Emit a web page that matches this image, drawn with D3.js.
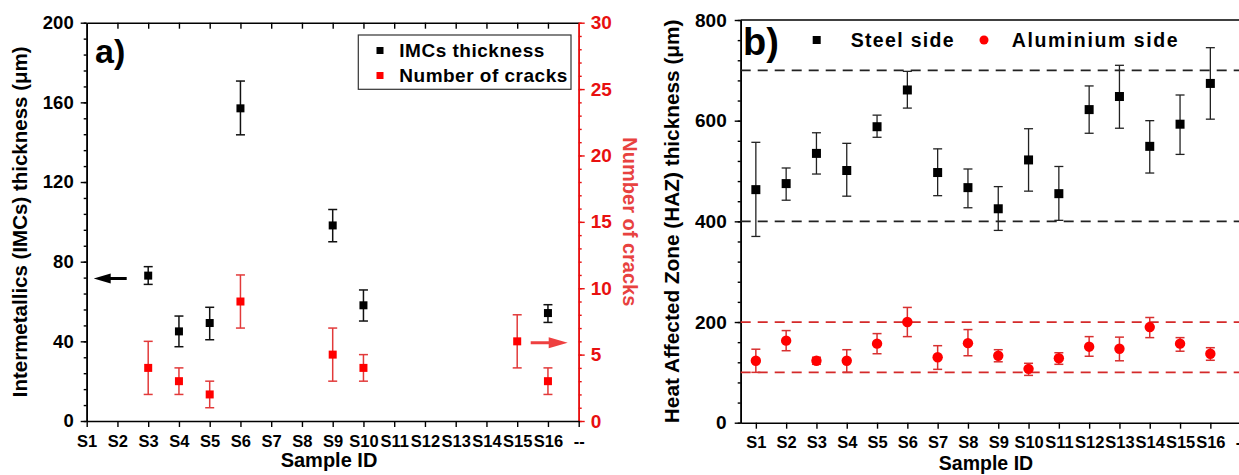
<!DOCTYPE html>
<html>
<head>
<meta charset="utf-8">
<script src="https://cdn.jsdelivr.net/npm/d3@7"></script>
<style>
  html, body { margin: 0; padding: 0; background: #fff; }
  svg { display: block; font-family: "Liberation Sans", Arial, sans-serif; font-weight: bold; }
</style>
</head>
<body>
<svg id="chart" width="1239" height="475"></svg>
<script>
// ---------- data ----------
const samples = ["S1","S2","S3","S4","S5","S6","S7","S8","S9","S10","S11","S12","S13","S14","S15","S16","--"];

// panel a) IMCs thickness (left axis, µm)
const imcSamples   = ["S3","S4","S5","S6","S9","S10","S16"];
const imcThickness = [73, 45, 49.2, 157, 98.2, 58.1, 54.2];
const imcLow       = [68.6, 37.3, 40.8, 143.7, 90, 50.2, 49.5];
const imcHigh      = [77.5, 52.7, 57.1, 170.7, 106.2, 65.8, 58.4];

// panel a) number of cracks (right axis)
const crackSamples = ["S3","S4","S5","S6","S9","S10","S15","S16"];
const crackCount   = [4, 3, 2, 9, 5, 4, 6, 3];
const crackErr     = [2, 1, 1, 2, 2, 1, 2, 1];

// panel b) HAZ thickness (µm)
const hazSamples = ["S1","S2","S3","S4","S5","S6","S7","S8","S9","S10","S11","S12","S13","S14","S15","S16"];
const steelSide  = [463, 475, 535, 501, 588, 661, 497, 467, 425, 522, 455, 622, 648, 549, 593, 674];
const steelLow   = [370, 442, 494, 450, 567, 625, 451, 427, 382, 460, 402, 575, 585, 496, 533, 603];
const steelHigh  = [557, 506, 576, 555, 611, 698, 544, 504, 469, 584, 509, 669, 710, 600, 651, 745];
const alSide     = [123, 163, 123, 123, 157, 200, 130, 158, 133, 107, 128, 151, 147, 190, 157, 137];
const alLow      = [100, 143, 116, 100, 137, 171, 106, 133, 121, 94, 116, 132, 123, 169, 142, 124];
const alHigh     = [146, 183, 130, 145, 177, 229, 153, 185, 145, 118, 139, 171, 170, 209, 169, 149];
const steelBand  = [400, 700];
const alBand     = [100, 200];

// ticks
const imcTicks   = [0, 40, 80, 120, 160, 200];
const crackTicks = [0, 5, 10, 15, 20, 25, 30];
const hazTicks   = [0, 200, 400, 600, 800];

// ---------- drawing ----------
const svg = d3.select("#chart");
const RED = "#ff0000";
const RED_AX = "#e81010";
const RED_BAR = "#e23a3a";

function styleAxis(g, color, fs) {
  g.selectAll("path.domain").attr("stroke", color).attr("stroke-width", 1.6);
  g.selectAll(".tick line").attr("stroke", color).attr("stroke-width", 1.4);
  g.selectAll(".tick text").attr("fill", color).style("font-size", fs + "px")
    .style("font-family", "'Liberation Sans', Arial, sans-serif").style("font-weight", "bold");
}

function errorBars(g, xs, ys, xKeys, lows, highs, color, width, cap) {
  xKeys.forEach((k, i) => {
    const x = xs(k), y1 = ys(lows[i]), y2 = ys(highs[i]);
    g.append("line").attr("x1", x).attr("x2", x).attr("y1", y1).attr("y2", y2)
      .attr("stroke", color).attr("stroke-width", width);
    [y1, y2].forEach(y => g.append("line").attr("x1", x - cap).attr("x2", x + cap)
      .attr("y1", y).attr("y2", y).attr("stroke", color).attr("stroke-width", width));
  });
}

// ===== Panel a =====
const aL = 86.7, aR = 578.7, aT = 22.7, aB = 421;
const xA = d3.scalePoint().domain(samples).range([aL, aR]);
const yA = d3.scaleLinear().domain([0, 200]).range([aB, aT]);
const yC = d3.scaleLinear().domain([0, 30]).range([aB, aT]);
const pa = svg.append("g");

// minor ticks
pa.append("g").attr("transform", `translate(${aL},0)`)
  .call(d3.axisLeft(yA).tickValues(d3.range(0, 201, 8)).tickSize(3).tickFormat("").tickSizeOuter(0))
  .call(g => styleAxis(g, "#000", 18));
pa.append("g").attr("transform", `translate(${aR},0)`)
  .call(d3.axisRight(yC).tickValues(d3.range(0, 31, 1)).tickSize(3).tickFormat("").tickSizeOuter(0))
  .call(g => styleAxis(g, RED_AX, 18));
// top inside ticks
pa.append("g").attr("transform", `translate(0,${aT})`)
  .call(d3.axisTop(xA).tickValues(samples.slice(1, 16)).tickSize(-6).tickFormat("").tickSizeOuter(0))
  .call(g => styleAxis(g, "#000", 17));
// major axes
pa.append("g").attr("transform", `translate(${aL},0)`)
  .call(d3.axisLeft(yA).tickValues(imcTicks).tickSize(6).tickPadding(7).tickSizeOuter(0))
  .call(g => styleAxis(g, "#000", 18.5));
pa.append("g").attr("transform", `translate(${aR},0)`)
  .call(d3.axisRight(yC).tickValues(crackTicks).tickSize(6).tickPadding(6).tickSizeOuter(0))
  .call(g => styleAxis(g, RED_AX, 19));
pa.append("g").attr("transform", `translate(0,${aB})`)
  .call(d3.axisBottom(xA).tickSize(6).tickPadding(8).tickSizeOuter(0))
  .call(g => styleAxis(g, "#000", 16.5));

// error bars + markers
const eA = pa.append("g");
errorBars(eA, xA, yA, imcSamples, imcLow, imcHigh, "#111", 1.5, 4.5);
errorBars(eA, xA, yC, crackSamples,
  crackCount.map((v, i) => v - crackErr[i]), crackCount.map((v, i) => v + crackErr[i]), RED_BAR, 1.5, 4.5);
const sq = 8;
pa.append("g").selectAll("rect").data(imcSamples).join("rect")
  .attr("x", d => xA(d) - sq / 2).attr("y", (d, i) => yA(imcThickness[i]) - sq / 2)
  .attr("width", sq).attr("height", sq).attr("fill", "#000");
pa.append("g").selectAll("rect").data(crackSamples).join("rect")
  .attr("x", d => xA(d) - sq / 2).attr("y", (d, i) => yC(crackCount[i]) - sq / 2)
  .attr("width", sq).attr("height", sq).attr("fill", RED);

// arrows
{
  const y = yA(71.6), tip = xA("S1") + 7;
  pa.append("path").attr("fill", "#000")
    .attr("d", `M${tip},${y} L${tip + 17},${y - 5} L${tip + 17},${y - 1.5} L${tip + 33},${y - 1.5} L${tip + 33},${y + 1.5} L${tip + 17},${y + 1.5} L${tip + 17},${y + 5} Z`);
  const y2 = yC(5.9), tip2 = aR - 11;
  pa.append("path").attr("fill", "#ee4040")
    .attr("d", `M${tip2},${y2} L${tip2 - 19},${y2 - 5.5} L${tip2 - 19},${y2 - 1.5} L${tip2 - 37},${y2 - 1.5} L${tip2 - 37},${y2 + 1.5} L${tip2 - 19},${y2 + 1.5} L${tip2 - 19},${y2 + 5.5} Z`);
}

// legend a
const lg = pa.append("g");
lg.append("rect").attr("x", 358.3).attr("y", 35).attr("width", 212.7).attr("height", 54.3)
  .attr("fill", "#fff").attr("stroke", "#333").attr("stroke-width", 1.2);
lg.append("rect").attr("x", 376.5).attr("y", 47).attr("width", 7).attr("height", 7).attr("fill", "#000");
lg.append("rect").attr("x", 376.5).attr("y", 72).attr("width", 7).attr("height", 7).attr("fill", RED);
lg.append("text").attr("x", 399.3).attr("y", 57).attr("textLength", 145).style("font-size", "19px").text("IMCs thickness");
lg.append("text").attr("x", 399.3).attr("y", 82).attr("textLength", 168).style("font-size", "19px").text("Number of cracks");

pa.append("text").attr("x", 95).attr("y", 63).style("font-size", "34px").text("a)");

// titles a
pa.append("text").attr("transform", `translate(27,${(aT + aB) / 2}) rotate(-90)`)
  .attr("text-anchor", "middle").style("font-size", "20.5px").text("Intermetallics (IMCs) thickness (\u03bcm)");
pa.append("text").attr("transform", `translate(623,${(aT + aB) / 2}) rotate(90)`)
  .attr("text-anchor", "middle").attr("fill", "#e8423f").style("font-size", "20px").text("Number of cracks");
pa.append("text").attr("x", 329).attr("y", 467).attr("text-anchor", "middle").style("font-size", "20px").text("Sample ID");

// ===== Panel b =====
const bL = 740.7, bR = 1255.8, bT = 20, bB = 422.7;
const xB = d3.scalePoint().domain(samples).range([bL, bR]).padding(0.5);
const yB = d3.scaleLinear().domain([0, 800]).range([bB, bT]);
const pb = svg.append("g");

pb.append("g").attr("transform", `translate(${bL},0)`)
  .call(d3.axisLeft(yB).tickValues(d3.range(0, 801, 40)).tickSize(3).tickFormat("").tickSizeOuter(0))
  .call(g => styleAxis(g, "#000", 18));
pb.append("g").attr("transform", `translate(${bL},0)`)
  .call(d3.axisLeft(yB).tickValues(hazTicks).tickSize(6).tickPadding(8).tickSizeOuter(0))
  .call(g => styleAxis(g, "#000", 19));
pb.append("g").attr("transform", `translate(0,${bB})`)
  .call(d3.axisBottom(xB).tickSize(6).tickPadding(8).tickSizeOuter(0))
  .call(g => styleAxis(g, "#000", 16.5));
pb.append("line").attr("x1", bL).attr("x2", bR).attr("y1", bT).attr("y2", bT)
  .attr("stroke", "#000").attr("stroke-width", 1.6);
pb.append("line").attr("x1", bR).attr("x2", bR).attr("y1", bT).attr("y2", bB)
  .attr("stroke", "#000").attr("stroke-width", 1.6);

// dashed bands
steelBand.forEach(v => pb.append("line").attr("x1", bL).attr("x2", bR).attr("y1", yB(v)).attr("y2", yB(v))
  .attr("stroke", "#222").attr("stroke-width", 1.8).attr("stroke-dasharray", "10,7"));
alBand.forEach(v => pb.append("line").attr("x1", bL).attr("x2", bR).attr("y1", yB(v)).attr("y2", yB(v))
  .attr("stroke", "#d42a2a").attr("stroke-width", 1.8).attr("stroke-dasharray", "10,7"));

const eB = pb.append("g");
errorBars(eB, xB, yB, hazSamples, steelLow, steelHigh, "#222", 1.3, 4.5);
errorBars(eB, xB, yB, hazSamples, alLow, alHigh, "#d83030", 1.5, 4.5);
const sq2 = 9;
pb.append("g").selectAll("rect").data(hazSamples).join("rect")
  .attr("x", d => xB(d) - sq2 / 2).attr("y", (d, i) => yB(steelSide[i]) - sq2 / 2)
  .attr("width", sq2).attr("height", sq2).attr("fill", "#000");
pb.append("g").selectAll("circle").data(hazSamples).join("circle")
  .attr("cx", d => xB(d)).attr("cy", (d, i) => yB(alSide[i])).attr("r", 5.2).attr("fill", RED);

// legend b
pb.append("text").attr("x", 743).attr("y", 55).style("font-size", "38px").text("b)");
pb.append("rect").attr("x", 812.7).attr("y", 36).attr("width", 8).attr("height", 8).attr("fill", "#000");
pb.append("text").attr("x", 850.7).attr("y", 47).attr("textLength", 103).style("font-size", "19.5px").text("Steel side");
pb.append("circle").attr("cx", 984).attr("cy", 40).attr("r", 4.5).attr("fill", RED);
pb.append("text").attr("x", 1011.7).attr("y", 47).attr("textLength", 166).style("font-size", "19.5px").text("Aluminium side");

pb.append("text").attr("transform", `translate(679,${(bT + bB) / 2}) rotate(-90)`)
  .attr("text-anchor", "middle").style("font-size", "20.8px").text("Heat Affected Zone (HAZ) thickness (\u03bcm)");
pb.append("text").attr("x", 986).attr("y", 470).attr("text-anchor", "middle").style("font-size", "19.5px").text("Sample ID");
</script>
</body>
</html>
